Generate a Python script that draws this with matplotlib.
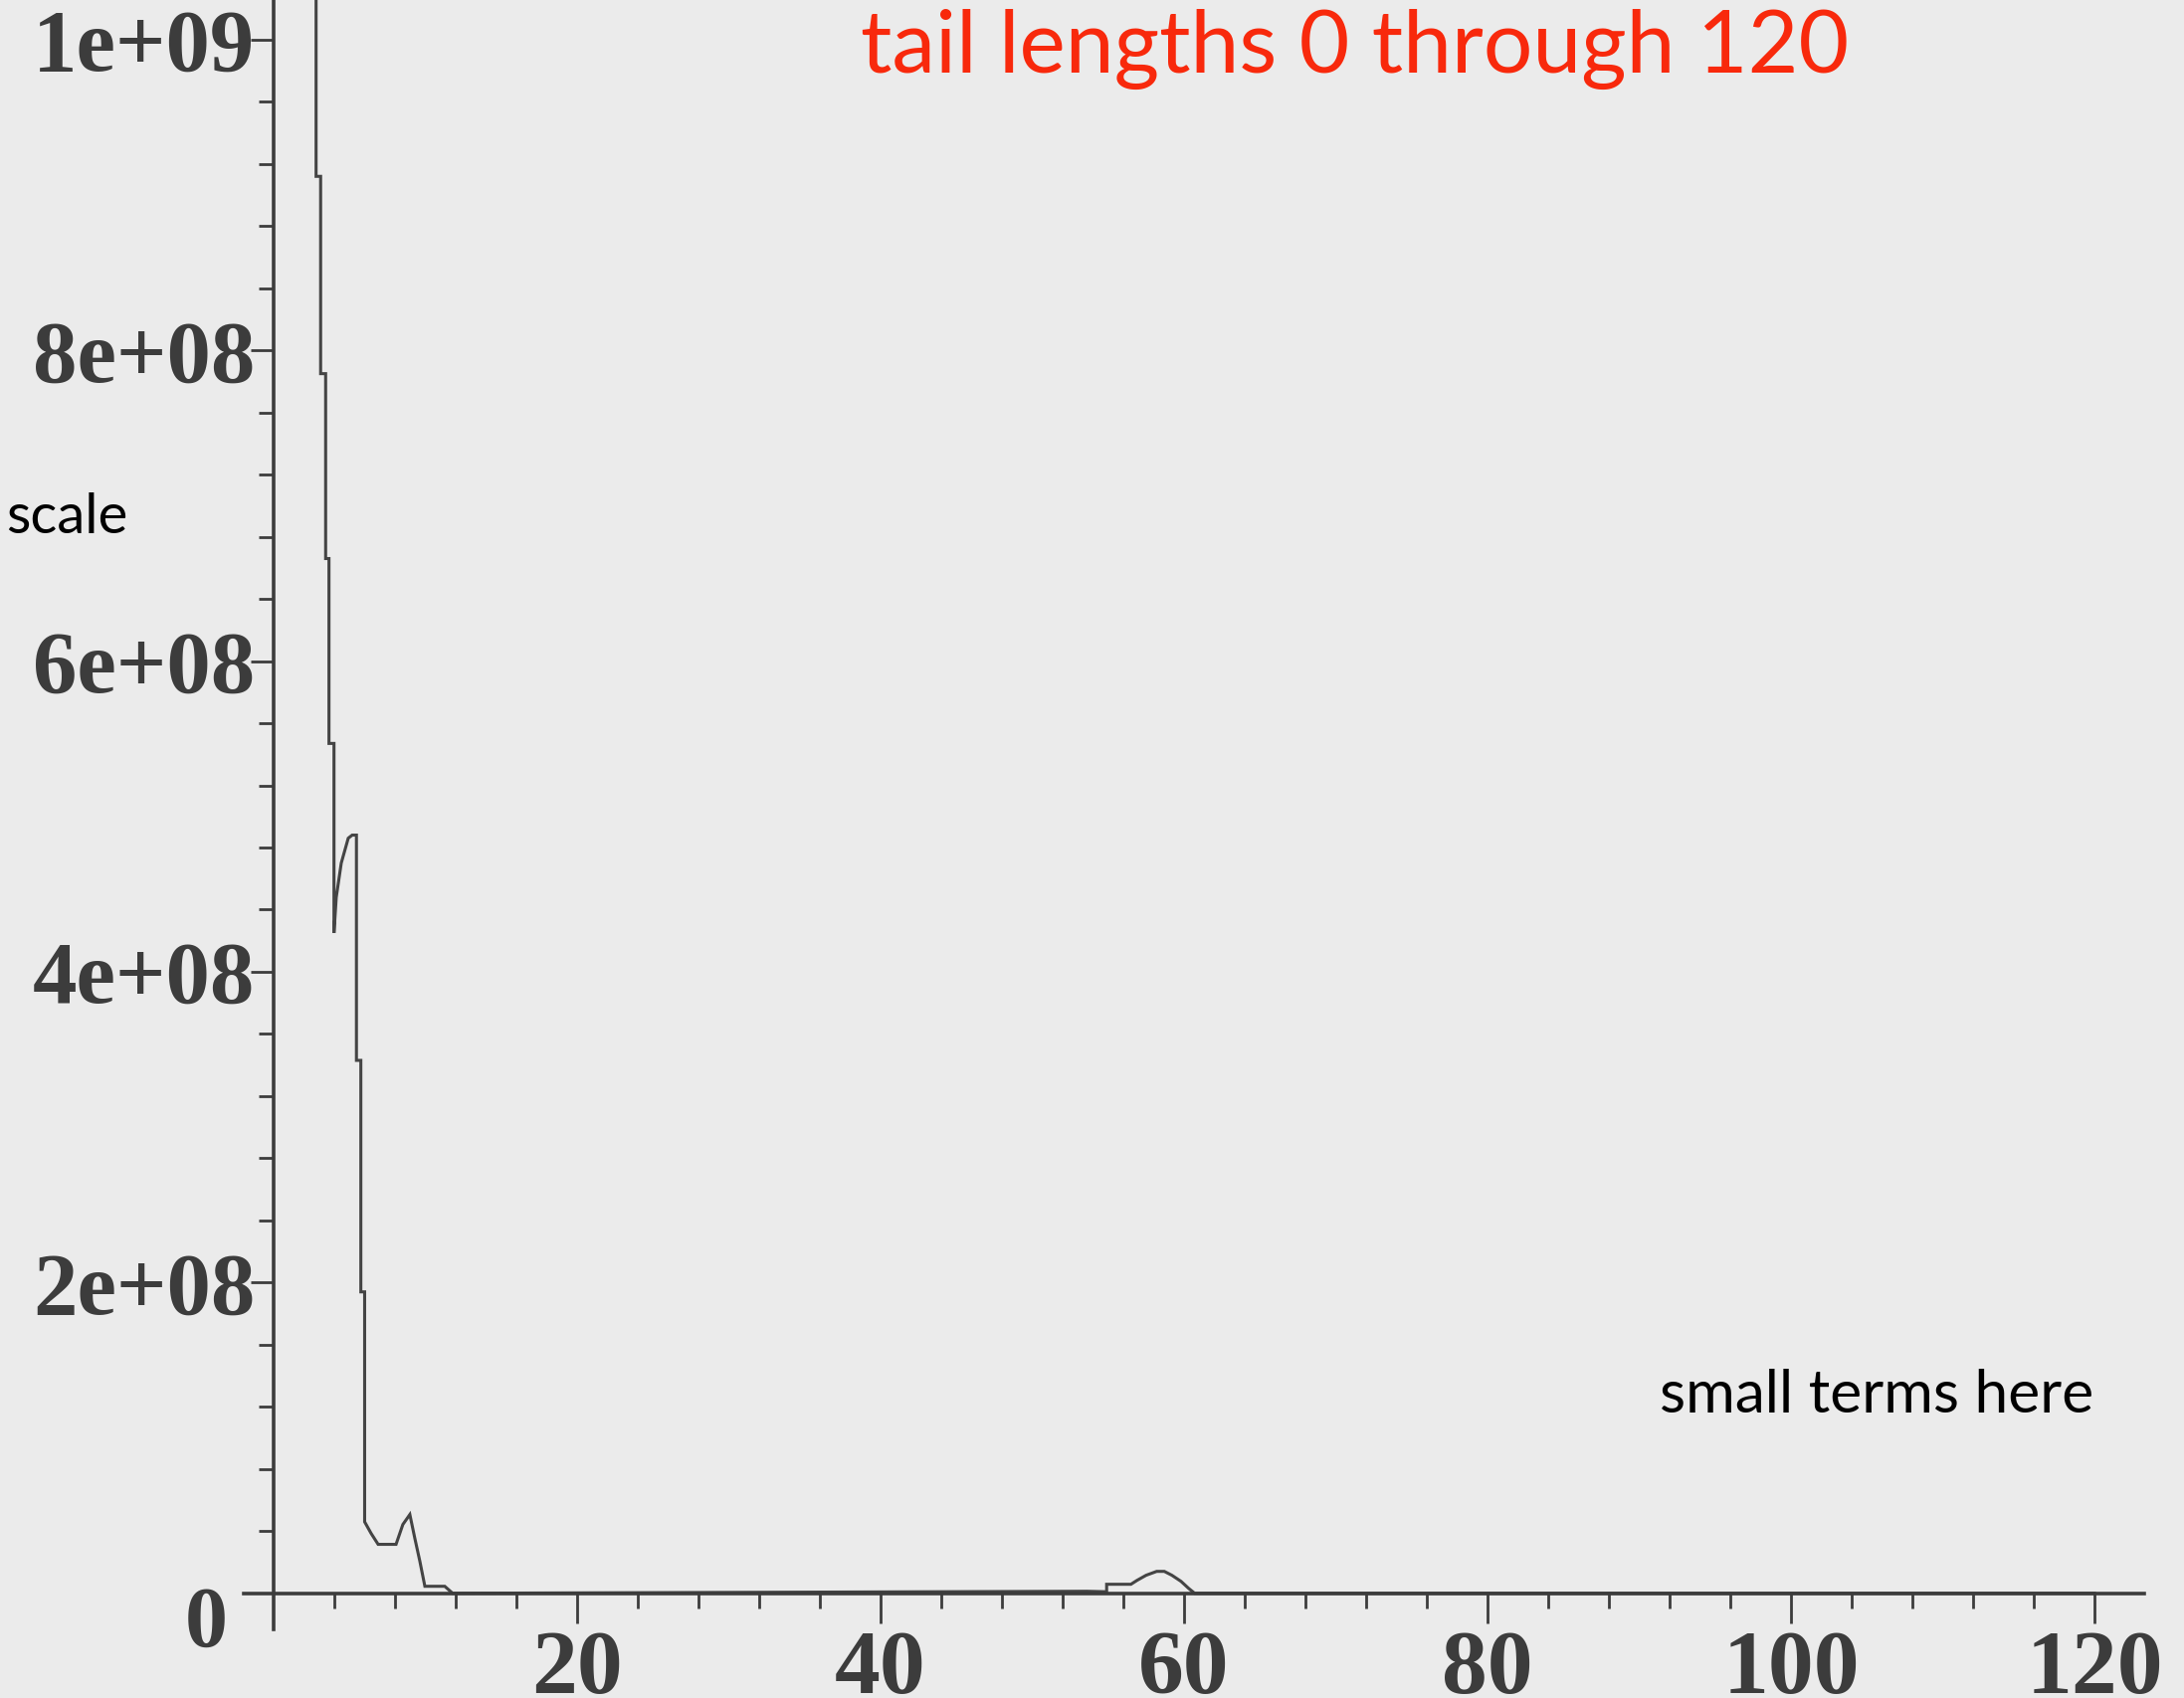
import matplotlib
matplotlib.use("Agg")
import matplotlib.pyplot as plt
from matplotlib.ticker import FixedLocator, NullFormatter

# ---- data -----------------------------------------------------------------
tail_length = [2.80, 2.80, 3.10, 3.10, 3.43, 3.43, 3.65, 3.65, 3.98, 3.98,
               4.13, 4.46, 4.92, 5.18, 5.46, 5.46, 5.75, 5.75, 6.00, 6.00,
               6.43, 6.89, 8.07, 8.52, 8.98, 9.31, 9.64, 9.97, 11.28, 11.80,
               53.6, 54.9, 54.9, 56.5, 56.9, 57.5, 58.2, 58.7, 59.2, 59.8,
               60.3, 60.7, 120.0]
count = [12.0e8, 9.12e8, 9.12e8, 7.85e8, 7.85e8, 6.66e8, 6.66e8, 5.47e8, 5.47e8, 4.25e8,
         4.48e8, 4.70e8, 4.86e8, 4.88e8, 4.88e8, 3.43e8, 3.43e8, 1.94e8, 1.94e8, 0.46e8,
         0.385e8, 0.315e8, 0.315e8, 0.443e8, 0.507e8, 0.353e8, 0.206e8, 0.045e8, 0.045e8, 0.0,
         0.013e8, 0.010e8, 0.058e8, 0.058e8, 0.083e8, 0.116e8, 0.141e8, 0.141e8, 0.116e8, 0.077e8,
         0.032e8, 0.0, 0.0]

x_major = [20, 40, 60, 80, 100, 120]
x_labels = ["20", "40", "60", "80", "100", "120"]
y_major = [2e8, 4e8, 6e8, 8e8, 1e9]
y_labels = ["2e+08", "4e+08", "6e+08", "8e+08", "1e+09"]

title_text = "tail lengths 0 through 120"
left_note = "scale"
right_note = "small terms here"

# ---- style ----------------------------------------------------------------
BG = "#ebebeb"
INK = "#3c3c3c"
RED = "#f8290c"
NUM_FONT = ["Liberation Serif", "DejaVu Serif"]
NOTE_FONT = ["Lato", "DejaVu Sans"]

fig = plt.figure(figsize=(21.95, 17.07), dpi=100, facecolor=BG)
ax = fig.add_axes([0, 0, 1, 1], facecolor=BG)

ax.plot(tail_length, count, color="#444444", lw=2.2, solid_joinstyle="miter")

ax.set_xlim(-18.03, 125.9)
ax.set_ylim(-0.0674e9, 1.0255e9)

for s in ("top", "right"):
    ax.spines[s].set_visible(False)
ax.spines["left"].set_position(("data", 0))
ax.spines["bottom"].set_position(("data", 0))
ax.spines["left"].set_bounds(-0.023e9, 1.04e9)
ax.spines["bottom"].set_bounds(-1.97, 123.3)
for s in ("left", "bottom"):
    ax.spines[s].set_color(INK)
    ax.spines[s].set_linewidth(2.6)

ax.xaxis.set_major_locator(FixedLocator(x_major))
ax.set_xticklabels(x_labels)
ax.xaxis.set_minor_locator(FixedLocator([v for v in range(4, 121, 4) if v % 20]))
ax.xaxis.set_minor_formatter(NullFormatter())

ax.yaxis.set_major_locator(FixedLocator(y_major))
ax.set_yticklabels(y_labels)
ax.yaxis.set_minor_locator(FixedLocator([k * 4e7 for k in range(1, 26) if k % 5]))
ax.yaxis.set_minor_formatter(NullFormatter())

ax.tick_params(axis="x", which="major", direction="out", length=21.6, width=2.0,
               color=INK, pad=5, labelsize=66, labelcolor=INK)
ax.tick_params(axis="x", which="minor", direction="out", length=10.8, width=2.0, color=INK)
ax.tick_params(axis="y", which="major", direction="out", length=16.5, width=2.0,
               color=INK, pad=-3, labelsize=64, labelcolor=INK)
ax.tick_params(axis="y", which="minor", direction="out", length=10.8, width=2.0, color=INK)
for lab in ax.get_xticklabels() + ax.get_yticklabels():
    lab.set_family(NUM_FONT)
    lab.set_fontweight("bold")

ax.text(-4.46, -0.0206e9, "0", family=NUM_FONT, fontweight="bold", fontsize=62,
        color=INK, ha="center", va="center")

ax.text(0.394, 0.957, title_text, transform=fig.transFigure, family=NOTE_FONT,
        fontsize=63, color=RED, ha="left", va="baseline")
ax.text(0.003, 0.686, left_note, transform=fig.transFigure, family=NOTE_FONT,
        fontsize=40.5, color="black", ha="left", va="baseline")
ax.text(0.760, 0.168, right_note, transform=fig.transFigure, family=NOTE_FONT,
        fontsize=43.5, color="black", ha="left", va="baseline")

fig.savefig("out.png", dpi=100, facecolor=BG)
